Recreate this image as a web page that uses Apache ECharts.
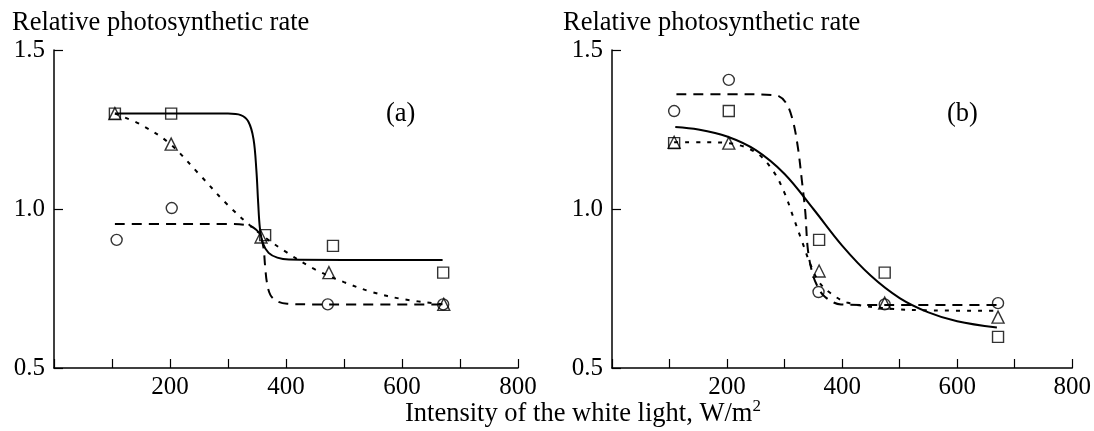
<!DOCTYPE html>
<html>
<head>
<meta charset="utf-8">
<script src="https://cdn.jsdelivr.net/npm/echarts@6/dist/echarts.min.js"></script>
<style>
html,body{margin:0;padding:0;background:#fff;}
#chart{width:1094px;height:431px;}
</style>
</head>
<body>
<div id="chart"></div>
<script>
// ---- tick labels ----
const xTickLabels = [200, 400, 600, 800];
const yTickLabels = [0.5, 1.0, 1.5];
const yAxisTitle = 'Relative photosynthetic rate';
const xAxisTitle = 'Intensity of the white light, W/m';
const panelLabels = ['(a)', '(b)'];

// ---- panel (a) measured points ----
const aSquares   = [[105, 1.30], [202, 1.30], [364, 0.918], [481, 0.884], [671, 0.80]];
const aTriangles = [[105, 1.30], [202, 1.204], [357, 0.912], [474, 0.80], [672, 0.70]];
const aCircles   = [[108, 0.903], [203, 1.003], [472, 0.70], [671, 0.70]];
// ---- panel (a) fitted curves ----
const aSolid  = [[105, 1.30], [200, 1.30], [300, 1.30], [322, 1.295], [335, 1.275], [344, 1.22], [349, 1.12], [352, 1.02], [355, 0.94], [360, 0.893], [370, 0.862], [385, 0.847], [405, 0.841], [500, 0.84], [670, 0.84]];
const aDashed = [[105, 0.953], [200, 0.953], [300, 0.953], [330, 0.95], [345, 0.94], [355, 0.92], [361, 0.88], [364, 0.82], [367, 0.77], [373, 0.73], [385, 0.71], [402, 0.702], [450, 0.70], [672, 0.70]];
const aDotted = [[105, 1.30], [150, 1.265], [200, 1.205], [250, 1.11], [300, 1.012], [350, 0.93], [400, 0.865], [450, 0.81], [500, 0.77], [550, 0.738], [600, 0.717], [671, 0.70]];

// ---- panel (b) measured points ----
const bSquares   = [[108, 1.207], [203, 1.308], [360, 0.903], [474, 0.80], [671, 0.598]];
const bTriangles = [[108, 1.21], [203, 1.207], [360, 0.805], [474, 0.704], [671, 0.66]];
const bCircles   = [[108, 1.308], [203, 1.406], [359, 0.739], [474, 0.70], [671, 0.704]];
// ---- panel (b) fitted curves ----
const bSolid  = [[110, 1.258], [150, 1.25], [200, 1.228], [250, 1.185], [300, 1.11], [350, 1.00], [400, 0.885], [450, 0.79], [500, 0.72], [550, 0.675], [600, 0.647], [669, 0.627]];
const bDashed = [[112, 1.361], [200, 1.361], [284, 1.358], [302, 1.335], [314, 1.28], [323, 1.195], [330, 1.09], [336, 0.99], [340, 0.88], [346, 0.815], [355, 0.765], [370, 0.724], [398, 0.70], [450, 0.698], [669, 0.698]];
const bDotted = [[108, 1.21], [160, 1.21], [203, 1.207], [250, 1.178], [280, 1.12], [300, 1.05], [315, 0.975], [330, 0.90], [345, 0.825], [360, 0.77], [380, 0.735], [410, 0.705], [480, 0.687], [560, 0.681], [669, 0.68]];

const FONT = '"Liberation Serif", "Times New Roman", serif';
const FS = 25;
const TFS = 26.5;

function xAxis(gi) {
  return {
    gridIndex: gi, type: 'value', min: 0, max: 800, interval: 100,
    axisLine: {lineStyle: {color: '#000', width: 1.5}},
    axisTick: {inside: true, length: 9, lineStyle: {color: '#000', width: 1.2}},
    splitLine: {show: false},
    axisLabel: {
      color: '#000', fontFamily: FONT, fontSize: FS, margin: 7,
      formatter: v => (xTickLabels.indexOf(v) >= 0 ? String(v) : '')
    }
  };
}
function yAxis(gi) {
  return {
    gridIndex: gi, type: 'value', min: 0.5, max: 1.5, interval: 0.5,
    axisLine: {show: true, lineStyle: {color: '#000', width: 1.5}},
    axisTick: {show: true, inside: true, length: 9, lineStyle: {color: '#000', width: 1.2}},
    splitLine: {show: false},
    axisLabel: {
      color: '#000', fontFamily: FONT, fontSize: FS, margin: 9,
      formatter: v => {
        const f = yTickLabels.find(t => Math.abs(t - v) < 1e-9);
        return f === undefined ? '' : f.toFixed(1);
      }
    }
  };
}
function pts(data, symbol, size, gi) {
  return {
    type: 'scatter', xAxisIndex: gi, yAxisIndex: gi, data: data,
    symbol: symbol, symbolSize: size, z: 5,
    itemStyle: {color: 'rgba(255,255,255,0)', borderColor: '#000', borderWidth: 1.4}
  };
}
function curve(data, type, gi) {
  return {
    type: 'line', xAxisIndex: gi, yAxisIndex: gi, data: data,
    showSymbol: false, smooth: 0.35, z: 3,
    lineStyle: {color: '#000', width: 2, type: type}
  };
}

const chart = echarts.init(document.getElementById('chart'), null, {renderer: 'canvas'});
chart.setOption({
  animation: false,
  backgroundColor: '#fff',
  grid: [
    {left: 54, right: 576, top: 50, bottom: 63},
    {left: 612, right: 18, top: 50, bottom: 63}
  ],
  xAxis: [xAxis(0), xAxis(1)],
  yAxis: [yAxis(0), yAxis(1)],
  graphic: [
    {type: 'text', left: 12, top: 10, style: {text: yAxisTitle, font: TFS + 'px ' + FONT, fill: '#000'}},
    {type: 'text', left: 563, top: 10, style: {text: yAxisTitle, font: TFS + 'px ' + FONT, fill: '#000'}},
    {type: 'text', left: 386, top: 101, style: {text: panelLabels[0], font: TFS + 'px ' + FONT, fill: '#000'}},
    {type: 'text', left: 947, top: 101, style: {text: panelLabels[1], font: TFS + 'px ' + FONT, fill: '#000'}},
    {type: 'text', left: 405, top: 398, style: {
      text: '{n|' + xAxisTitle + '}{s|2}',
      rich: {
        n: {font: TFS + 'px ' + FONT, fill: '#000', verticalAlign: 'bottom', lineHeight: 30},
        s: {font: '17px ' + FONT, fill: '#000', verticalAlign: 'top', lineHeight: 18, padding: [0, 0, 14, 0]}
      }
    }}
  ],
  series: [
    curve(aSolid, 'solid', 0),
    curve(aDashed, [10, 7], 0),
    curve(aDotted, [4, 7], 0),
    pts(aSquares, 'rect', 11, 0),
    pts(aTriangles, 'triangle', 12, 0),
    pts(aCircles, 'circle', 11, 0),
    curve(bSolid, 'solid', 1),
    curve(bDashed, [10, 7], 1),
    curve(bDotted, [4, 7], 1),
    pts(bSquares, 'rect', 11, 1),
    pts(bTriangles, 'triangle', 12, 1),
    pts(bCircles, 'circle', 11, 1)
  ]
});
</script>
</body>
</html>
